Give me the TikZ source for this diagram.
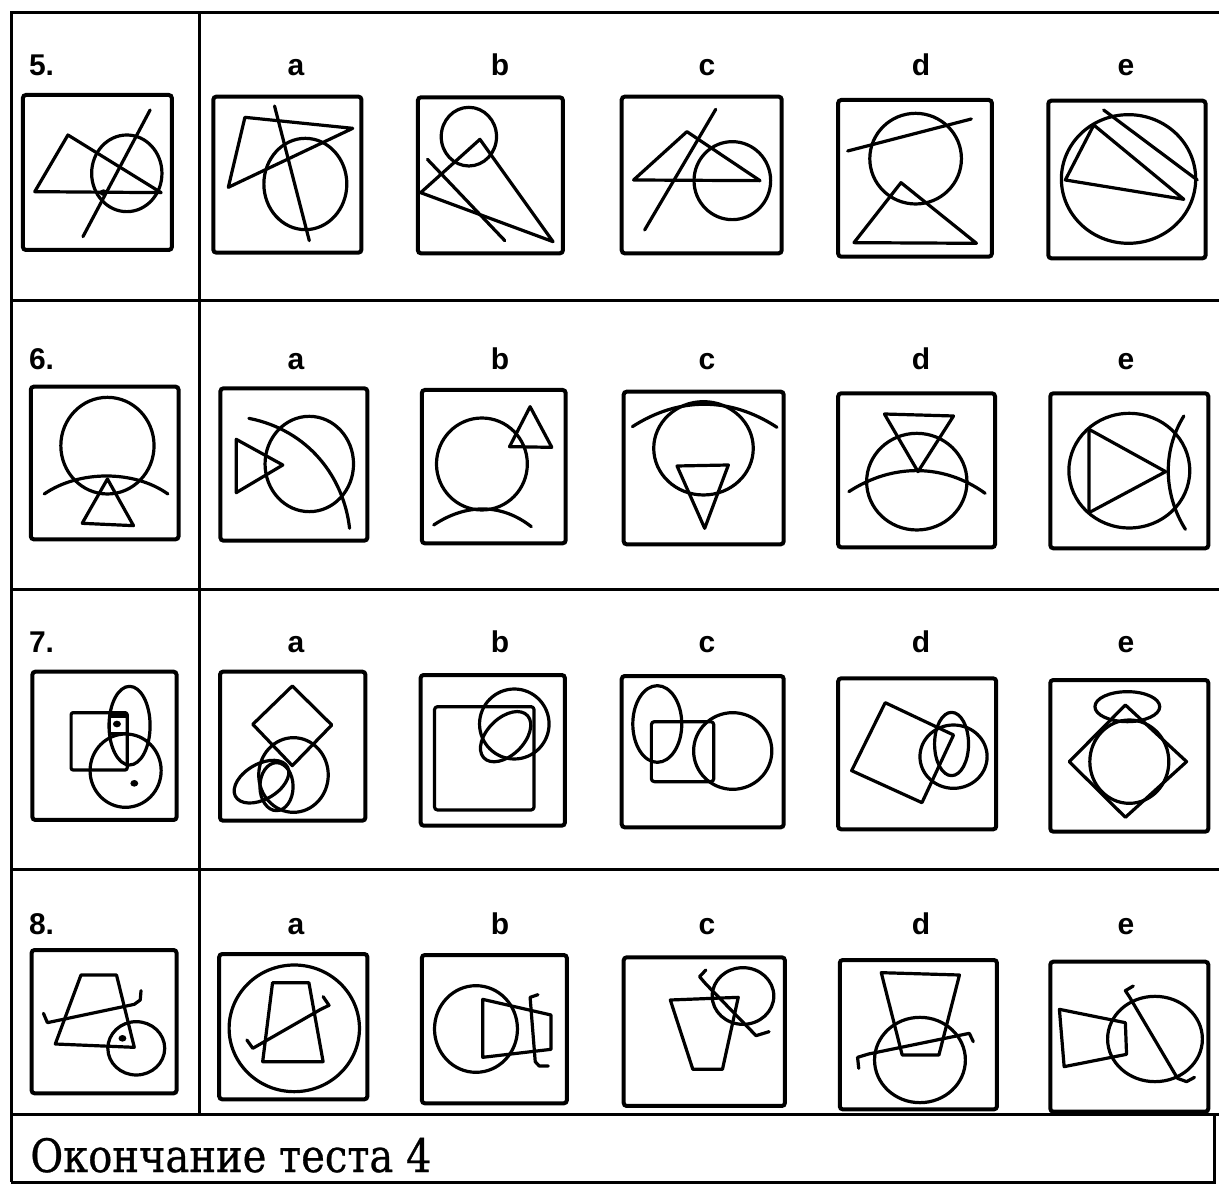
\documentclass[tikz,border=0pt]{standalone}
\usepackage{fontspec}
\setsansfont{Liberation Sans}
\newfontfamily\cyrserif[FakeStretch=0.87,FakeBold=0.6]{DejaVu Serif}
\usepackage{xcolor}
\usepackage{tikz}

\tikzset{
  rule/.style={line width=1.5pt},
  frame/.style={line width=2pt, rounded corners=1.5pt},
  fig/.style={line width=1.6pt, line join=round, line cap=round},
  lbl/.style={font=\sffamily\bfseries\fontsize{15}{15}\selectfont, anchor=base},
  dot/.style={fill=black}
}

\begin{document}
\begin{tikzpicture}[x=0.5pt,y=-0.5pt]
\useasboundingbox (0,0) rectangle (1219,1189);

% table rules
\draw[rule] (10,12) -- (1219,12);
\draw[rule] (11,12) -- (11,1182);
\draw[rule] (199,12) -- (199,1114);
\draw[rule] (11,300) -- (1219,300);
\draw[rule] (11,589) -- (1219,589);
\draw[rule] (11,869) -- (1219,869);
\draw[rule] (11,1114) -- (1219,1114);
\draw[rule] (11,1182) -- (1214,1182) -- (1214,1116);

% labels
\foreach \r/\y in {5/75,6/369,7/652,8/934}{
  \node[lbl, anchor=base west] (n\r) at (22,\y) {\r.};
  \foreach \c/\x in {a/296,b/500,c/707,d/921,e/1126}
    \node[lbl] (l\r\c) at (\x,\y) {\c};
}
\node[anchor=base west, inner sep=0pt, font=\cyrserif\fontsize{23}{23}\selectfont] (tail) at (30,1172) {Окончание теста 4};

% row 5
\begin{scope}[shift={(0,0)}, xscale=0.395, yscale=0.3333]
\draw[frame] (58,285) rectangle (435,750);
\draw[fig] (88,575) -- (172,405) -- (408,578) -- cycle;
\draw[fig] (321,520) ellipse [x radius=89, y radius=115];
\draw[fig] (380,330) -- (210,710);
\fill[dot] (262,578) circle (10);
\draw[frame] (540,290) rectangle (915,758);
\draw[fig] (578,562) -- (620,352) -- (893,385) -- cycle;
\draw[fig] (773,552) ellipse [x radius=105, y radius=137];
\draw[fig] (695,318) -- (783,722);
\draw[frame] (1058,292) rectangle (1425,760);
\draw[fig] (1187,410) ellipse [x radius=70, y radius=88];
\draw[fig] (1215,418) -- (1400,725) -- (1065,578) -- cycle;
\draw[fig] (1082,478) -- (1278,722);
\end{scope}
\begin{scope}[shift={(600,0)}, xscale=0.395, yscale=0.3333]
\draw[frame] (55,290) rectangle (460,760);
\draw[fig] (85,540) -- (220,395) -- (405,542) -- cycle;
\draw[fig] (335,542) ellipse [x radius=97, y radius=117];
\draw[fig] (293,328) -- (113,690);
\draw[frame] (603,300) rectangle (992,770);
\draw[fig] (799,476) ellipse [x radius=116, y radius=136];
\draw[fig] (627,453) -- (940,357);
\draw[fig] (643,728) -- (762,548) -- (953,730) -- cycle;
\draw[frame] (1135,302) rectangle (1533,775);
\draw[fig] (1338,537) ellipse [x radius=170, y radius=193];
\draw[fig] (1178,540) -- (1250,375) -- (1478,598) -- cycle;
\draw[fig] (1275,330) -- (1512,540);
\end{scope}

% row 6
\begin{scope}[shift={(0,290)}, xscale=0.395, yscale=0.3333]
\draw[frame] (78,290) rectangle (452,748);
\draw[fig] (272,467) ellipse [x radius=118, y radius=145];
\draw[fig] (112,612) .. controls (200,540) and (340,540) .. (425,612);
\draw[fig] (208,700) -- (272,567) -- (338,707) -- cycle;
\draw[frame] (558,295) rectangle (930,752);
\draw[fig] (783,522) ellipse [x radius=112, y radius=143];
\draw[fig] (598,448) -- (716,525) -- (598,608) -- cycle;
\draw[fig] (630,385) .. controls (780,420) and (870,560) .. (885,715);
\draw[frame] (1068,300) rectangle (1432,760);
\draw[fig] (1220,522) ellipse [x radius=115, y radius=138];
\draw[fig] (1290,470) -- (1342,350) -- (1397,472) -- cycle;
\draw[fig] (1098,705) .. controls (1180,640) and (1270,640) .. (1345,710);
\end{scope}
\begin{scope}[shift={(600,290)}, xscale=0.395, yscale=0.3333]
\draw[frame] (60,305) rectangle (465,763);
\draw[fig] (82,410) .. controls (200,320) and (330,320) .. (448,412);
\draw[fig] (262,475) ellipse [x radius=126, y radius=140];
\draw[fig] (195,528) -- (325,525) -- (265,715) -- cycle;
\draw[frame] (603,310) rectangle (1000,772);
\draw[fig] (720,372) -- (895,378) -- (805,545) -- cycle;
\draw[fig] (802,575) ellipse [x radius=127, y radius=145];
\draw[fig] (630,605) .. controls (740,520) and (870,520) .. (975,610);
\draw[frame] (1140,310) rectangle (1540,775);
\draw[fig] (1340,542) ellipse [x radius=153, y radius=172];
\draw[fig] (1238,418) -- (1432,545) -- (1238,668) -- cycle;
\draw[fig] (1478,378) .. controls (1420,490) and (1430,620) .. (1482,718);
\end{scope}

% row 7
\begin{scope}[shift={(0,580)}, xscale=0.395, yscale=0.3333]
\draw[frame] (82,275) rectangle (447,720);
\draw[fig, rounded corners=1pt] (180,398) rectangle (322,570);
\draw[fig] (277,408) rectangle (322,460);
\draw[fig] (328,437) ellipse [x radius=52, y radius=118];
\draw[fig] (318,572) ellipse [x radius=90, y radius=110];
\fill[dot] (296,432) circle (10);
\fill[dot] (340,610) circle (10);
\draw[frame] (557,275) rectangle (925,722);
\draw[fig] (740,318) -- (840,435) -- (740,557) -- (640,433) -- cycle;
\draw[fig] (743,585) ellipse [x radius=88, y radius=112];
\draw[fig, rotate around={40:(662,605)}] (662,605) ellipse [x radius=80, y radius=50];
\draw[fig] (700,620) ellipse [x radius=42, y radius=72];
\draw[frame] (1065,285) rectangle (1430,737);
\draw[fig, rounded corners=1.5pt] (1100,380) rectangle (1352,690);
\draw[fig] (1302,432) ellipse [x radius=88, y radius=105];
\draw[fig, rotate around={55:(1280,470)}] (1280,470) ellipse [x radius=85, y radius=50];
\end{scope}
\begin{scope}[shift={(600,580)}, xscale=0.395, yscale=0.3333]
\draw[frame] (55,288) rectangle (465,742);
\draw[fig] (145,432) ellipse [x radius=62, y radius=115];
\draw[fig, rounded corners=1.5pt] (130,425) rectangle (288,605);
\draw[fig] (336,513) ellipse [x radius=99, y radius=115];
\draw[frame] (603,295) rectangle (1003,748);
\draw[fig] (722,368) -- (895,465) -- (815,668) -- (637,572) -- cycle;
\draw[fig] (895,530) ellipse [x radius=85, y radius=95];
\draw[fig] (890,492) ellipse [x radius=43, y radius=95];
\draw[frame] (1140,300) rectangle (1540,755);
\draw[fig] (1335,380) ellipse [x radius=82, y radius=45];
\draw[fig] (1330,375) -- (1485,545) -- (1330,712) -- (1188,545) -- cycle;
\draw[fig] (1340,545) ellipse [x radius=100, y radius=125];
\end{scope}

% row 8
\begin{scope}[shift={(0,860)}, xscale=0.395, yscale=0.3333]
\draw[frame] (80,270) rectangle (447,700);
\draw[fig] (205,345) -- (295,345) -- (340,562) -- (140,552) -- cycle;
\draw[fig] (110,460) -- (120,488) -- (340,433) -- (355,420) -- (357,392);
\draw[fig] (345,565) ellipse [x radius=72, y radius=80];
\fill[dot] (310,535) circle (10);
\draw[frame] (555,282) rectangle (930,718);
\draw[fig] (745,505) ellipse [x radius=165, y radius=190];
\draw[fig] (690,368) -- (782,368) -- (818,605) -- (665,605) -- cycle;
\draw[fig] (625,540) -- (640,565) -- (812,448) -- (833,436) -- (818,410);
\draw[frame] (1068,285) rectangle (1435,730);
\draw[fig] (1205,507) ellipse [x radius=105, y radius=130];
\draw[fig] (1222,418) -- (1395,465) -- (1395,568) -- (1222,592) -- cycle;
\draw[fig] (1362,404) -- (1342,412) -- (1355,605) -- (1365,618) -- (1388,618);
\end{scope}
\begin{scope}[shift={(600,860)}, xscale=0.395, yscale=0.3333]
\draw[frame] (60,292) rectangle (468,738);
\draw[fig] (178,420) -- (350,412) -- (310,628) -- (235,628) -- cycle;
\draw[fig] (362,408) ellipse [x radius=78, y radius=85];
\draw[fig] (268,330) -- (252,350) -- (268,372) -- (395,527) -- (428,515);
\draw[frame] (607,300) rectangle (1005,748);
\draw[fig] (712,338) -- (910,345) -- (858,585) -- (765,585) -- cycle;
\draw[fig] (810,600) ellipse [x radius=115, y radius=128];
\draw[fig] (655,625) -- (652,592) -- (680,582) -- (935,520) -- (945,545);
\draw[frame] (1140,305) rectangle (1540,755);
\draw[fig] (1163,448) -- (1330,488) -- (1333,583) -- (1175,620) -- cycle;
\draw[fig] (1405,537) ellipse [x radius=120, y radius=128];
\draw[fig] (1350,378) -- (1330,392) -- (1340,410) -- (1462,655) -- (1485,665) -- (1505,652);
\end{scope}
\end{tikzpicture}
\end{document}
